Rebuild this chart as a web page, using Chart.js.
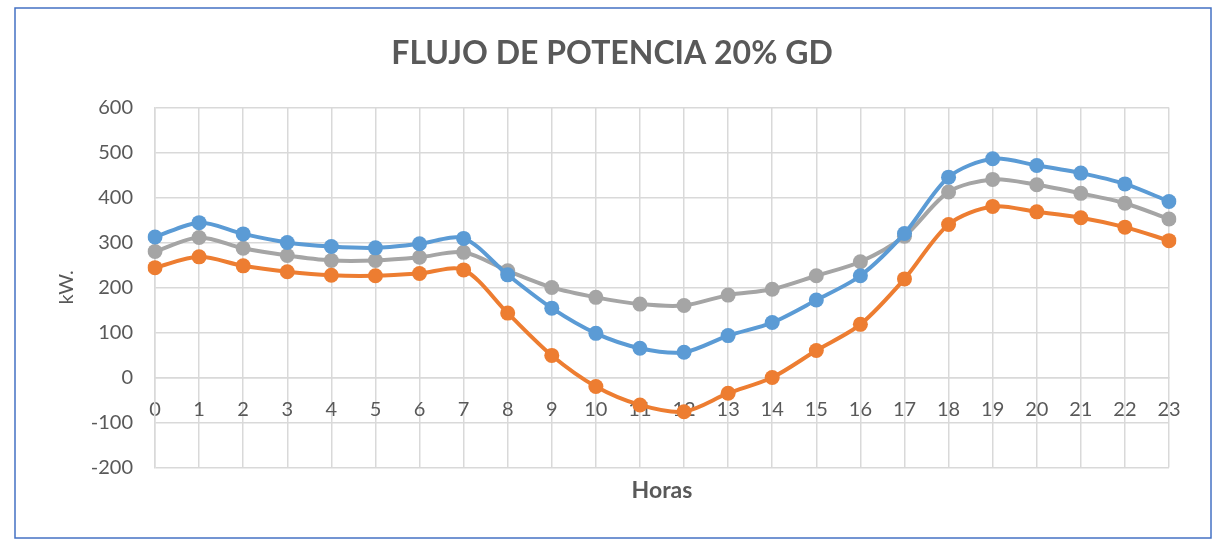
<!DOCTYPE html>
<html>
<head>
<meta charset="utf-8">
<script src="https://cdn.jsdelivr.net/npm/chart.js@4.4.1/dist/chart.umd.min.js"></script>
<style>
    html, body { margin: 0; padding: 0; background: #fff; }
    #wrap { position: relative; width: 1217px; height: 548px; }
</style>
</head>
<body>
<div id="wrap"><canvas id="flujoChart"></canvas></div>
<script>
// horas del día (eje X)
const horas = ['0','1','2','3','4','5','6','7','8','9','10','11','12','13','14','15','16','17','18','19','20','21','22','23'];

// kW por hora, una serie por caso
const serie1 = [312, 344, 319, 300, 291, 288, 297, 309, 228, 154, 98, 65, 56, 93, 122, 172, 226, 320, 445, 486, 471, 454, 430, 391];
const serie2 = [244, 268, 248, 235, 227, 226, 231, 239, 143, 49, -20, -61, -76, -35, 0, 60, 118, 219, 340, 380, 368, 355, 334, 304];
const serie3 = [280, 311, 287, 271, 260, 260, 267, 278, 237, 200, 178, 163, 160, 183, 196, 226, 257, 314, 412, 440, 428, 409, 387, 352];

const yMin = -200;
const yMax = 600;
const yStep = 100;

const textColor = '#595959';
const gridColor = '#D9D9D9';

// marco azul alrededor del gráfico
const marcoPlugin = {
    id: 'marco',
    afterDraw(chart) {
        const ctx = chart.ctx;
        ctx.save();
        ctx.strokeStyle = '#4472C4';
        ctx.lineWidth = 1.5;
        ctx.strokeRect(15, 8, 1196, 530);
        ctx.restore();
    }
};

function makeDataset(label, values, color) {
    return {
        label: label,
        data: values,
        borderColor: color,
        backgroundColor: color,
        borderWidth: 4,
        pointRadius: 7.5,
        pointHoverRadius: 7.5,
        pointBorderWidth: 0,
        tension: 0.3,
        fill: false
    };
}

const ctx = document.getElementById('flujoChart').getContext('2d');
new Chart(ctx, {
    type: 'line',
    data: {
        labels: horas,
        datasets: [
            makeDataset('Serie 1', serie1, '#5B9BD5'),
            makeDataset('Serie 2', serie2, '#ED7D31'),
            makeDataset('Serie 3', serie3, '#A5A5A5')
        ]
    },
    options: {
        responsive: true,
        maintainAspectRatio: false,
        animation: false,
        layout: { padding: { left: 55, right: 48, top: 0, bottom: 0 } },
        plugins: {
            legend: { display: false },
            tooltip: { enabled: false },
            title: {
                display: true,
                text: 'FLUJO DE POTENCIA 20% GD',
                color: textColor,
                font: { family: 'Lato', size: 32, weight: 'bold' },
                padding: { top: 34, bottom: 35 }
            }
        },
        scales: {
            x: {
                type: 'category',
                position: { y: 0 },  // etiquetas pegadas a la línea del cero
                offset: false,
                grid: { color: gridColor, lineWidth: 1.5, drawTicks: false },
                border: { color: gridColor, width: 1.5 },
                ticks: {
                    color: textColor,
                    font: { family: 'Lato', size: 20 },
                    padding: 20,
                    maxRotation: 0,
                    autoSkip: false
                }
            },
            xTitulo: {
                type: 'category',
                position: 'bottom',
                grid: { display: false, drawTicks: false },
                border: { display: false },
                ticks: { display: false },
                title: {
                    display: true,
                    text: 'Horas',
                    color: textColor,
                    font: { family: 'Lato', size: 23, weight: 'bold' },
                    padding: { top: 0, bottom: 44 }
                },
                afterFit(scale) { scale.height = 80.5; }
            },
            y: {
                min: yMin,
                max: yMax,
                grid: { color: gridColor, lineWidth: 1.5, drawTicks: false },
                border: { color: gridColor, width: 1.5 },
                ticks: {
                    stepSize: yStep,
                    color: textColor,
                    font: { family: 'Lato', size: 20 },
                    padding: 22
                },
                title: {
                    display: true,
                    text: 'kW.',
                    color: textColor,
                    font: { family: 'Lato', size: 20 },
                    padding: { top: 0, bottom: 0 }
                },
                afterFit(scale) { scale.width = 100; }
            }
        }
    },
    plugins: [marcoPlugin]
});
</script>
</body>
</html>
